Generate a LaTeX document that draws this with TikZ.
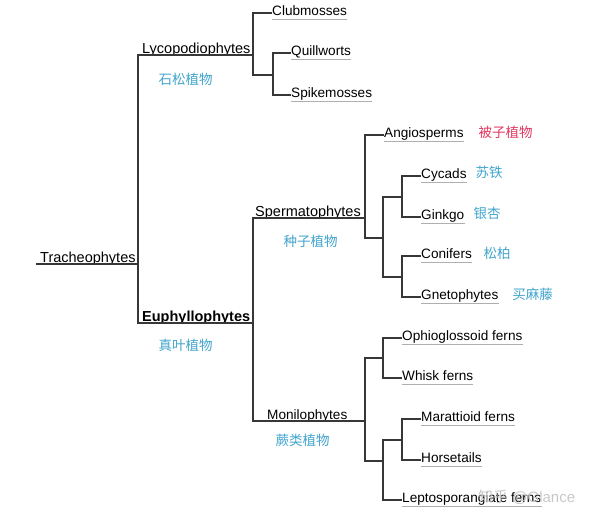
\documentclass[tikz,border=0pt]{standalone}
\usepackage{fontspec}
\setmainfont{Liberation Sans}
\newfontfamily\cjk{Noto Sans CJK SC}
\definecolor{linec}{RGB}{55,55,55}
\definecolor{ulc}{RGB}{175,175,175}
\definecolor{cnblue}{RGB}{65,165,205}
\definecolor{cnred}{RGB}{225,55,95}
\definecolor{wmc}{RGB}{200,200,200}
\tikzset{
  branch/.style={draw=linec, line width=1.2pt},
  uline/.style={draw=ulc, line width=1pt},
  bigname/.style={anchor=base west, inner sep=0pt, font=\fontsize{14.5}{16}\selectfont},
  leafname/.style={anchor=base west, inner sep=0pt, font=\fontsize{13.6}{16}\selectfont},
  cnlabel/.style={inner sep=0pt, text=cnblue, font=\cjk\fontsize{13.5}{15}\selectfont},
  wmark/.style={inner sep=0pt, text=wmc, font=\fontsize{15}{17}\selectfont}
}
\begin{document}
\begin{tikzpicture}[x=1pt, y=-1pt]
\useasboundingbox (0,0) rectangle (609,525);
\fill[white] (0,0) rectangle (609,525);

% ---- label nodes ----
\node[bigname] (trach) at (40,262) {Tracheophytes};
\node[bigname] (lyco) at (142,53) {Lycopodiophytes};
\node[bigname, font=\fontsize{14.5}{16}\selectfont\bfseries] (euph) at (142,321) {Euphyllophytes};
\node[bigname] (sperm) at (255,216) {Spermatophytes};
\node[leafname] (moni) at (267,419) {Monilophytes};

\node[leafname] (club) at (272,15.5) {Clubmosses};
\node[leafname] (quill) at (291,55.5) {Quillworts};
\node[leafname] (spike) at (291,97.5) {Spikemosses};
\node[leafname] (angio) at (384,137.5) {Angiosperms};
\node[leafname] (cycad) at (421,178.5) {Cycads};
\node[leafname] (ginkgo) at (421,219.5) {Ginkgo};
\node[leafname] (conif) at (421,258.5) {Conifers};
\node[leafname] (gneto) at (421,299.5) {Gnetophytes};
\node[leafname] (ophio) at (402,340.5) {Ophioglossoid ferns};
\node[leafname] (whisk) at (402,380.5) {Whisk ferns};
\node[leafname] (marat) at (421,421.5) {Marattioid ferns};
\node[leafname] (horse) at (421,462.5) {Horsetails};
\node[leafname] (lepto) at (402,502.5) {Leptosporangiate ferns};

% ---- Chinese labels ----
\node[cnlabel] (cnlyco) at (185.5,79) {石松植物};
\node[cnlabel] (cneuph) at (185.5,345) {真叶植物};
\node[cnlabel] (cnsperm) at (310.5,241) {种子植物};
\node[cnlabel] (cnmoni) at (302.5,440) {蕨类植物};
\node[cnlabel, text=cnred] (cnangio) at (505.5,132) {被子植物};
\node[cnlabel] (cncycad) at (489,172) {苏铁};
\node[cnlabel] (cnginkgo) at (487,213) {银杏};
\node[cnlabel] (cnconif) at (497,253) {松柏};
\node[cnlabel] (cngneto) at (532.5,294) {买麻藤};

% ---- junction coordinates ----
\coordinate (root) at (138,264);
\coordinate (lycoE) at (253,55);
\coordinate (euphE) at (253,323);
\coordinate (qsJ) at (273,75);
\coordinate (spermE) at (365,218);
\coordinate (moniE) at (365,421);
\coordinate (gymJ) at (383,238);
\coordinate (cgJ) at (402,197);
\coordinate (cnJ) at (402,277);
\coordinate (ophJ) at (383,358);
\coordinate (lowJ) at (383,461);
\coordinate (marJ) at (402,440);

% ---- tree ----
\draw[branch] ([xshift=-4pt,yshift=-2pt]trach.base west) -- (root);
\draw[branch] (root) |- (lycoE);
\draw[branch] (root) |- (euphE);
\draw[branch] (lycoE) |- ([yshift=2.5pt]club.base west);
\draw[branch] (lycoE) |- (qsJ);
\draw[branch] (qsJ) |- ([yshift=2.5pt]quill.base west);
\draw[branch] (qsJ) |- ([yshift=2.5pt]spike.base west);
\draw[branch] (euphE) |- (spermE);
\draw[branch] (euphE) |- (moniE);
\draw[branch] (spermE) |- ([yshift=2.5pt]angio.base west);
\draw[branch] (spermE) |- (gymJ);
\draw[branch] (gymJ) |- (cgJ);
\draw[branch] (gymJ) |- (cnJ);
\draw[branch] (cgJ) |- ([yshift=2.5pt]cycad.base west);
\draw[branch] (cgJ) |- ([yshift=2.5pt]ginkgo.base west);
\draw[branch] (cnJ) |- ([yshift=2.5pt]conif.base west);
\draw[branch] (cnJ) |- ([yshift=2.5pt]gneto.base west);
\draw[branch] (moniE) |- (ophJ);
\draw[branch] (moniE) |- (lowJ);
\draw[branch] (ophJ) |- ([yshift=2.5pt]ophio.base west);
\draw[branch] (ophJ) |- ([yshift=2.5pt]whisk.base west);
\draw[branch] (lowJ) |- (marJ);
\draw[branch] (lowJ) |- ([yshift=2.5pt]lepto.base west);
\draw[branch] (marJ) |- ([yshift=2.5pt]marat.base west);
\draw[branch] (marJ) |- ([yshift=2.5pt]horse.base west);

% ---- grey underlines under leaf names ----
\foreach \n in {club,quill,spike,angio,cycad,ginkgo,conif,gneto,ophio,whisk,marat,horse,lepto}
  \draw[uline] ([yshift=-3.5pt]\n.base west) -- ([yshift=-3.5pt]\n.base east);

% ---- watermark ----
\node[wmark, anchor=base west] (wm) at (478,502) {{\cjk 知乎} @Glance};
\end{tikzpicture}
\end{document}
